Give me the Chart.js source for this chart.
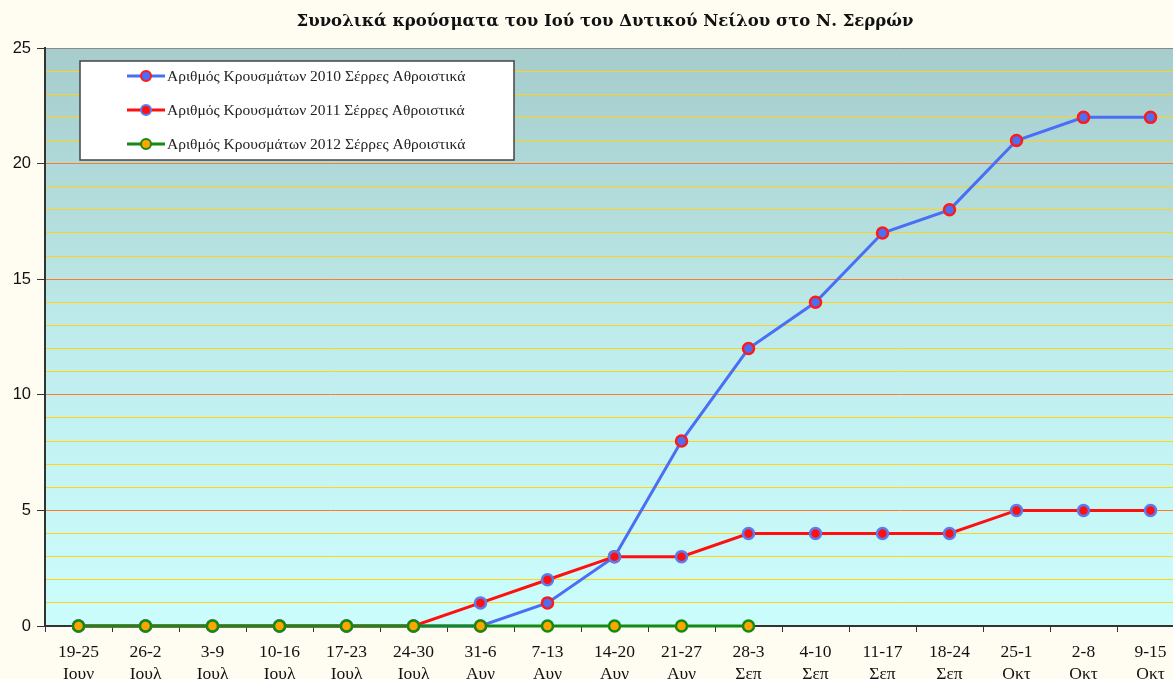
<!DOCTYPE html>
<html>
<head>
<meta charset="utf-8">
<script src="https://cdn.jsdelivr.net/npm/chart.js@4.4.0/dist/chart.umd.min.js"></script>
<style>
  html, body { margin: 0; padding: 0; overflow: hidden; background: #fffdf2; }
  #wrap { position: absolute; left: 0; top: 0; width: 1210px; height: 679px; }
</style>
</head>
<body>
<div id="wrap"><canvas id="myChart" width="1210" height="679"></canvas></div>
<script>
// weeks and months (two-line labels)
const weeks = ["19-25", "26-2", "3-9", "10-16", "17-23", "24-30", "31-6", "7-13", "14-20",
  "21-27", "28-3", "4-10", "11-17", "18-24", "25-1", "2-8", "9-15"];
const months = ["Ιουν", "Ιουλ", "Ιουλ", "Ιουλ", "Ιουλ", "Ιουλ", "Αυγ", "Αυγ", "Αυγ",
  "Αυγ", "Σεπ", "Σεπ", "Σεπ", "Σεπ", "Οκτ", "Οκτ", "Οκτ"];

const cases2010 = [0, 0, 0, 0, 0, 0, 0, 1, 3, 8, 12, 14, 17, 18, 21, 22, 22];
const cases2011 = [0, 0, 0, 0, 0, 0, 1, 2, 3, 3, 4, 4, 4, 4, 5, 5, 5];
const cases2012 = [0, 0, 0, 0, 0, 0, 0, 0, 0, 0, 0, null, null, null, null, null, null];

const yMin = 0, yMax = 25, yStep = 5;

const titleText = "Συνολικά κρούσματα του Ιού του Δυτικού Νείλου στο Ν. Σερρών";

// background of plot area
const plotBg = {
  id: "plotBg",
  beforeDraw(chart) {
    const { ctx, chartArea: a } = chart;
    const g = ctx.createLinearGradient(0, a.top, 0, a.bottom);
    g.addColorStop(0, "#a6cccc");
    g.addColorStop(0.55, "#c0eeee");
    g.addColorStop(1, "#ccfdfd");
    ctx.save();
    ctx.fillStyle = g;
    ctx.fillRect(a.left, a.top, a.right - a.left, a.bottom - a.top);
    ctx.restore();
  }
};

// title + legend box
const overlay = {
  id: "overlay",
  afterDraw(chart) {
    const ctx = chart.ctx;
    ctx.save();
    ctx.fillStyle = "#111";
    ctx.font = "bold 16.5px 'DejaVu Serif'";
    ctx.textAlign = "center";
    ctx.textBaseline = "middle";
    ctx.fillText(titleText, 605, 22);

    // legend
    const bx = 80, by = 61, bw = 434, bh = 99;
    ctx.fillStyle = "#ffffff";
    ctx.fillRect(bx, by, bw, bh);
    ctx.strokeStyle = "#444";
    ctx.lineWidth = 1.5;
    ctx.strokeRect(bx, by, bw, bh);

    const rows = [76, 110, 144];
    const ds = chart.data.datasets;
    ctx.font = "15.5px 'Liberation Serif'";
    ctx.textAlign = "left";
    ds.forEach((d, i) => {
      const y = rows[i];
      ctx.strokeStyle = d.borderColor;
      ctx.lineWidth = 3;
      ctx.beginPath();
      ctx.moveTo(127, y);
      ctx.lineTo(165, y);
      ctx.stroke();
      ctx.beginPath();
      ctx.arc(146, y, 5, 0, Math.PI * 2);
      ctx.fillStyle = d.pointBackgroundColor;
      ctx.fill();
      ctx.lineWidth = 2;
      ctx.strokeStyle = d.pointBorderColor;
      ctx.stroke();
      ctx.fillStyle = "#222";
      ctx.fillText(d.label, 167, y + 1);
    });
    ctx.restore();
  }
};

const ctx = document.getElementById("myChart").getContext("2d");
new Chart(ctx, {
  type: "line",
  data: {
    labels: weeks.map((w, i) => [w, months[i]]),
    datasets: [
      {
        label: "Αριθμός Κρουσμάτων 2010 Σέρρες Αθροιστικά",
        data: cases2010,
        borderColor: "#4a6ff5",
        borderWidth: 3,
        pointBackgroundColor: "#4a6ff5",
        pointBorderColor: "#ff1a1a",
        pointBorderWidth: 2.5,
        pointRadius: 5.5,
        order: 3,
        clip: false,
      },
      {
        label: "Αριθμός Κρουσμάτων 2011 Σέρρες Αθροιστικά",
        data: cases2011,
        borderColor: "#ff1010",
        borderWidth: 3,
        pointBackgroundColor: "#ff1010",
        pointBorderColor: "#5a7cf0",
        pointBorderWidth: 2.5,
        pointRadius: 5.5,
        order: 2,
        clip: false,
      },
      {
        label: "Αριθμός Κρουσμάτων 2012 Σέρρες Αθροιστικά",
        data: cases2012,
        borderColor: "#138a13",
        borderWidth: 3,
        pointBackgroundColor: "#ffa500",
        pointBorderColor: "#138a13",
        pointBorderWidth: 2.5,
        pointRadius: 5.5,
        order: 1,
        clip: false,
      },
    ],
  },
  options: {
    responsive: false,
    animation: false,
    devicePixelRatio: 1,
    layout: { padding: { top: 48, right: 26, left: 0, bottom: 0 } },
    plugins: {
      legend: { display: false },
      title: { display: false },
      tooltip: { enabled: false },
    },
    elements: { line: { tension: 0 } },
    scales: {
      x: {
        offset: true,
        afterFit: (s) => { s.height = 53; },
        grid: {
          offset: true,
          drawOnChartArea: false,
          tickLength: 6,
          tickColor: "#333",
        },
        border: { color: "#333", width: 2 },
        ticks: {
          color: "#111",
          autoSkip: false,
          maxRotation: 0,
          padding: 10,
          font: { family: "'Liberation Serif'", size: 17.5, lineHeight: 1.22 },
        },
      },
      y: {
        min: yMin,
        max: yMax,
        afterFit: (s) => { s.width = 45; },
        grid: {
          color: (c) => c.tick.value === yMax ? "#888" : (c.tick.value % yStep === 0 ? "#ff7a26" : "#ffd416"),
          tickColor: (c) => c.tick.value % yStep === 0 ? "#333" : "rgba(0,0,0,0)",
          tickLength: 8,
          lineWidth: 1,
        },
        border: { color: "#333", width: 2 },
        ticks: {
          stepSize: 1,
          autoSkip: false,
          color: "#111",
          padding: 6,
          font: { family: "'Liberation Sans'", size: 16.5 },
          callback: (v) => v % yStep === 0 ? v : "",
        },
      },
    },
  },
  plugins: [plotBg, overlay],
});
</script>
</body>
</html>
